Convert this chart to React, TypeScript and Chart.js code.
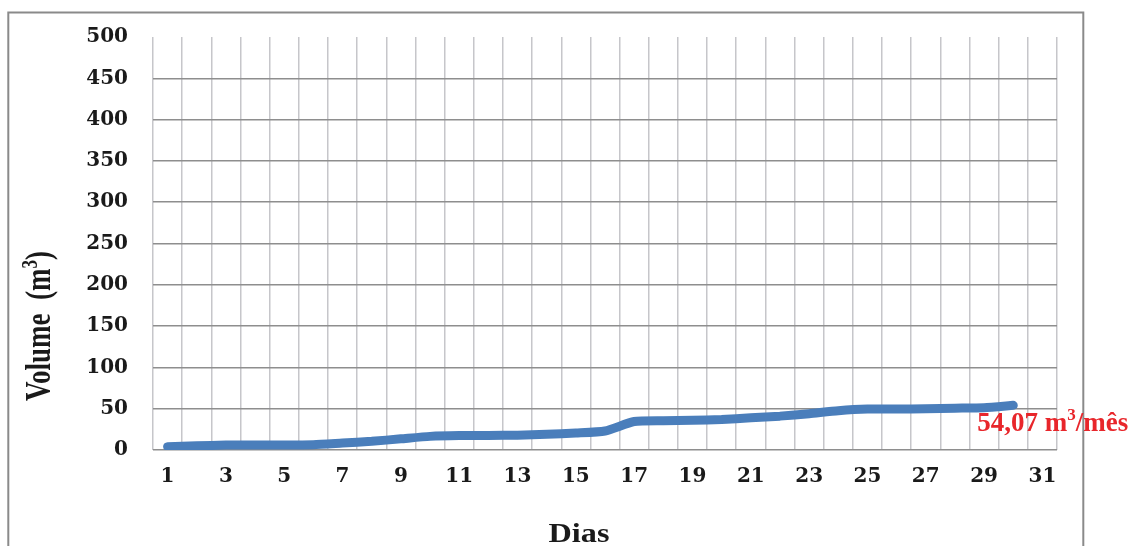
import { useEffect, useRef } from 'react';
import { Chart, registerables } from 'chart.js';

Chart.register(...registerables);

// Days of the month (category axis) and accumulated volume per day (m³)
const dayLabels = [
  '1', '2', '3', '4', '5', '6', '7', '8', '9', '10',
  '11', '12', '13', '14', '15', '16', '17', '18', '19', '20',
  '21', '22', '23', '24', '25', '26', '27', '28', '29', '30', '31',
];

const volume = [
  4, 5, 6, 6, 6, 6.5, 8.5, 10.5, 13.5, 16.5,
  17.5, 17.5, 18, 19, 20.5, 23, 34.5, 35.5, 36, 37,
  39, 41, 44, 47.5, 49.5, 49.6, 50, 50.6, 51.2, 54.07,
];

const yMin = 0;
const yMax = 500;
const yStep = 50;

const xTitle = 'Dias';
const yTitleMain = 'Volume  (m';
const unitSuffix = '/mês';

const SERIF = '"Liberation Serif", "Times New Roman", serif';

type Run = { t: string; size: number; rise?: number };

// Draws a row of text runs (for superscripts), optionally stretched
function drawRuns(
  ctx: CanvasRenderingContext2D,
  runs: Run[],
  x: number,
  y: number,
  opts: { align: 'left' | 'center'; sx?: number; sy?: number; rotate?: number; color: string }
) {
  ctx.save();
  ctx.translate(x, y);
  if (opts.rotate) ctx.rotate(opts.rotate);
  ctx.scale(opts.sx ?? 1, opts.sy ?? 1);
  ctx.fillStyle = opts.color;
  ctx.textBaseline = 'alphabetic';
  ctx.textAlign = 'left';
  let total = 0;
  const widths = runs.map((r) => {
    ctx.font = `bold ${r.size}px ${SERIF}`;
    const w = ctx.measureText(r.t).width;
    total += w;
    return w;
  });
  let cur = opts.align === 'center' ? -total / 2 : 0;
  runs.forEach((r, i) => {
    ctx.font = `bold ${r.size}px ${SERIF}`;
    ctx.fillText(r.t, cur, -(r.rise ?? 0));
    cur += widths[i];
  });
  ctx.restore();
}

const decorPlugin = {
  id: 'decor',
  beforeDraw(chart: Chart) {
    const ctx = chart.ctx;
    ctx.save();
    ctx.fillStyle = '#ffffff';
    ctx.fillRect(0, 0, chart.width, chart.height);
    ctx.strokeStyle = '#8a8a8a';
    ctx.lineWidth = 2;
    ctx.strokeRect(8.3, 12.5, 1075, 600);
    ctx.restore();
  },
  afterDraw(chart: Chart) {
    const ctx = chart.ctx;
    const xs = chart.scales.x;
    const ys = chart.scales.y;

    // Axis titles
    drawRuns(ctx, [{ t: xTitle, size: 28 }], 579, 542, {
      align: 'center',
      sx: 1.15,
      color: '#1a1a1a',
    });
    drawRuns(
      ctx,
      [
        { t: yTitleMain, size: 27 },
        { t: '3', size: 17, rise: 10 },
        { t: ')', size: 27 },
      ],
      50,
      326,
      { align: 'center', rotate: -Math.PI / 2, sy: 1.3, color: '#1a1a1a' }
    );

    // Monthly total next to the last point
    const lastIdx = volume.length - 1;
    const lastVal = volume[lastIdx];
    const px = xs.getPixelForValue(lastIdx);
    const py = ys.getPixelForValue(lastVal);
    const valueText = lastVal.toFixed(2).replace('.', ',') + ' m';
    drawRuns(
      ctx,
      [
        { t: valueText, size: 27 },
        { t: '3', size: 17, rise: 11 },
        { t: unitSuffix, size: 27 },
      ],
      px - 36,
      py + 26,
      { align: 'left', color: '#e8262b' }
    );
  },
};

export default function App() {
  const canvasRef = useRef<HTMLCanvasElement | null>(null);

  useEffect(() => {
    const canvas = canvasRef.current;
    if (!canvas) return;
    const chart = new Chart(canvas, {
      type: 'line',
      data: {
        labels: dayLabels,
        datasets: [
          {
            data: volume,
            borderColor: '#4a7ebb',
            borderWidth: 9,
            borderCapStyle: 'round',
            borderJoinStyle: 'round',
            pointRadius: 0,
            pointHoverRadius: 0,
            tension: 0.2,
            fill: false,
          },
        ],
      },
      options: {
        responsive: false,
        animation: false,
        events: [],
        layout: { padding: { top: 35, right: 73, left: 0, bottom: 0 } },
        plugins: {
          legend: { display: false },
          tooltip: { enabled: false },
          title: { display: false },
        },
        scales: {
          x: {
            type: 'category',
            offset: true,
            border: { display: false },
            grid: {
              offset: true,
              drawTicks: false,
              color: '#c6c6ca',
              lineWidth: 1.5,
            },
            ticks: {
              autoSkip: false,
              maxRotation: 0,
              padding: 15,
              color: '#1a1a1a',
              font: { family: '"DejaVu Serif", serif', weight: 'bold', size: 20 },
              callback: (_v: unknown, i: number) => (i % 2 === 0 ? dayLabels[i] : ''),
            },
            afterFit: (s: any) => {
              s.height = 96;
            },
          },
          y: {
            min: yMin,
            max: yMax,
            border: { display: false },
            grid: {
              drawTicks: false,
              lineWidth: 1.5,
              color: (c: any) => (c.tick && c.tick.value === yMax ? 'rgba(0,0,0,0)' : '#8e8e8e'),
            },
            ticks: {
              stepSize: yStep,
              padding: 25,
              color: '#1a1a1a',
              font: { family: '"DejaVu Serif", serif', weight: 'bold', size: 20 },
            },
            afterFit: (s: any) => {
              s.width = 153;
            },
          },
        },
      },
      plugins: [decorPlugin],
    } as any);
    return () => chart.destroy();
  }, []);

  return (
    <div style={{ position: 'absolute', left: 0, top: 0, width: 1130, height: 546, background: '#fff' }}>
      <canvas ref={canvasRef} width={1130} height={546} style={{ display: 'block' }} />
    </div>
  );
}
